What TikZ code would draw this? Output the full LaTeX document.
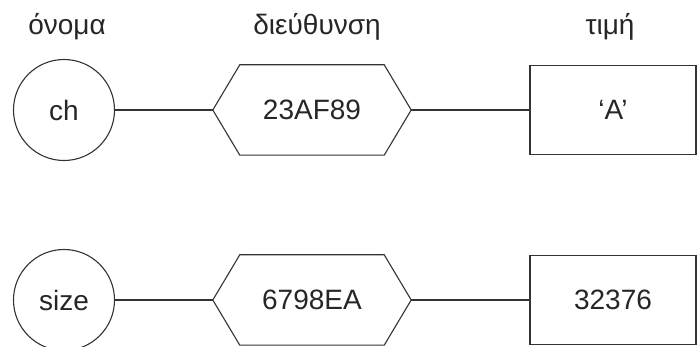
\documentclass[tikz,border=0pt]{standalone}
\usepackage{fontspec}
\setmainfont{Liberation Sans}
\begin{document}
\begin{tikzpicture}[x=1pt,y=-1pt,
  every node/.style={font=\fontsize{28}{33}\selectfont, text=black!85},
  lbl/.style={anchor=base},
  namecirc/.style={circle, draw=black!80, line width=1.1pt, minimum size=101pt, inner sep=0pt},
  addrbox/.style={minimum width=198pt, minimum height=90pt, inner sep=0pt},
  valbox/.style={rectangle, draw=black!80, line width=1.1pt, minimum width=166pt, minimum height=89pt, inner sep=0pt},
  conn/.style={draw=black!80, line width=1.1pt}]
\useasboundingbox (0,0) rectangle (697,347);
% headers
\node[lbl] (hname) at (67,35) {όνομα};
\node[lbl] (haddr) at (317,35) {διεύθυνση};
\node[lbl] (hval) at (610,35) {τιμή};
% row 1
\node[namecirc] (ch) at (64,110) {ch};
\node[addrbox] (a1) at (312,110) {23AF89};
\node[valbox] (v1) at (613,110) {‘A’};
% row 2
\node[namecirc] (size) at (64,300) {size};
\node[addrbox] (a2) at (312,300) {6798EA};
\node[valbox] (v2) at (613,300) {32376};
% hexagons
\foreach \h in {a1,a2}{
  \draw[conn] (\h.west) -- ([xshift=27pt]\h.north west) -- ([xshift=-27pt]\h.north east)
    -- (\h.east) -- ([xshift=-27pt]\h.south east) -- ([xshift=27pt]\h.south west) -- cycle;
}
% connectors
\draw[conn] (ch) -- (a1.west);
\draw[conn] (a1.east) -- (v1.west);
\draw[conn] (size) -- (a2.west);
\draw[conn] (a2.east) -- (v2.west);
\end{tikzpicture}
\end{document}
